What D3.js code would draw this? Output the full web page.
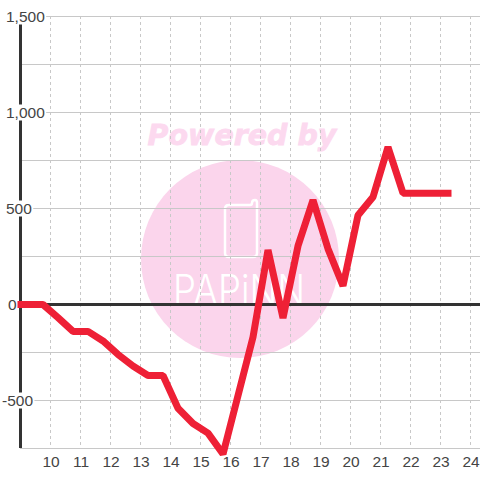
<!DOCTYPE html>
<html lang="en">
<head>
  <meta charset="UTF-8">
  <title>Chart</title>
  <script src="https://cdnjs.cloudflare.com/ajax/libs/d3/7.8.5/d3.min.js"></script>
  <style>
    html, body { margin: 0; padding: 0; background: #fff; }
    text { font-family: "Liberation Sans", Arial, sans-serif; }
  </style>
</head>
<body>
<svg id="canvas" width="480" height="480"></svg>
<script>
  const hours = [8.75, 9.25, 9.75, 10.25, 10.75, 11.25, 11.75, 12.25, 12.75, 13.25, 13.75, 14.25, 14.75, 15.25, 15.75, 16.25, 16.75, 17.25, 17.75, 18.25, 18.75, 19.25, 19.75, 20.25, 20.75, 21.25, 21.75, 22.25, 22.75, 23.25];
  const values = [0, 0, 0, -68, -140, -140, -190, -260, -320, -370, -370, -540, -620, -670, -779, -475, -170, 284, -70, 305, 544, 290, 97, 465, 560, 820, 580, 580, 580, 580];
  const xTicks = [10, 11, 12, 13, 14, 15, 16, 17, 18, 19, 20, 21, 22, 23, 24];
  const yGrid = [-750, -500, -250, 250, 500, 750, 1000, 1250, 1500];
  const yLabels = [1500, 1000, 500, 0, -500];

  const svg = d3.select("#canvas");
  const x = d3.scaleLinear().domain([9, 24]).range([20.5, 470.5]);
  const y = d3.scaleLinear().domain([1500, -750]).range([16.5, 448.5]);

  // watermark sits under the grid
  const mark = svg.append("g");
  mark.append("circle").attr("cx", 240).attr("cy", 259).attr("r", 99).attr("fill", "#fbd5ec");
  mark.append("text").attr("x", 242).attr("y", 145).attr("text-anchor", "middle")
    .style("font-family", "DejaVu Sans").style("font-weight", "bold").style("font-style", "italic")
    .style("font-size", "28.5px").attr("fill", "#fcd9ef")
    .attr("stroke", "#fcd9ef").attr("stroke-width", 0.8).text("Powered by");
  mark.append("path")
    .attr("d", "M229 205H250Q252 205 252 203Q252 200 255 200Q257 200 257 203V253Q257 257 253 257H229Q225 257 225 253V209Q225 205 229 205Z")
    .attr("fill", "none").attr("stroke", "#fff").attr("stroke-width", 2.5);
  mark.append("text").attr("x", 173).attr("y", 305)
    .attr("textLength", 132).attr("lengthAdjust", "spacingAndGlyphs")
    .style("font-family", "Inter").style("font-weight", "300").style("font-size", "42px")
    .attr("fill", "#fff").text("PAPiNN");

  svg.append("g").selectAll("line").data(xTicks).join("line")
    .attr("x1", d => x(d)).attr("x2", d => x(d)).attr("y1", 16).attr("y2", 448)
    .attr("stroke", "#c8c8c8").attr("stroke-dasharray", "3,3");

  svg.append("g").selectAll("line").data(yGrid).join("line")
    .attr("x1", 20).attr("x2", 480).attr("y1", d => y(d)).attr("y2", d => y(d))
    .attr("stroke", "#c8c8c8").attr("stroke-width", 1);

  // axes
  svg.append("line").attr("x1", 20.5).attr("x2", 20.5).attr("y1", 16).attr("y2", 448)
    .attr("stroke", "#333").attr("stroke-width", 3);
  svg.append("line").attr("x1", 20).attr("x2", 480).attr("y1", y(0)).attr("y2", y(0))
    .attr("stroke", "#333").attr("stroke-width", 3);

  // y labels have a white box that cuts the axis and grid
  const labelX = d => d < 0 ? 2 : d === 0 ? 8 : 6;
  const labels = svg.append("g").selectAll("g").data(yLabels).join("g");
  labels.append("text")
    .attr("x", labelX).attr("y", d => y(d)).attr("dy", "0.36em")
    .attr("font-size", 15.5).attr("fill", "#444")
    .text(d => d3.format(",")(d).replace("\u2212", "-"));
  labels.insert("rect", "text").each(function (d) {
    const b = d3.select(this.parentNode).select("text").node().getBBox();
    d3.select(this).attr("x", b.x - 1).attr("y", y(d) - 8).attr("width", b.width + 2).attr("height", 16).attr("fill", "#fff");
  });

  svg.append("g").selectAll("text").data(xTicks).join("text")
    .attr("x", d => x(d) + 0.5).attr("y", 467).attr("text-anchor", "middle")
    .attr("font-size", 15.5).attr("fill", "#444").text(d => d);

  svg.append("clipPath").attr("id", "plot").append("rect")
    .attr("x", 17.5).attr("y", 0).attr("width", 462.5).attr("height", 480);

  const line = d3.line().x((d, i) => x(hours[i])).y(d => y(d));
  svg.append("path").datum(values).attr("d", line)
    .attr("clip-path", "url(#plot)")
    .attr("fill", "none").attr("stroke", "#ee2036").attr("stroke-width", 7)
    .attr("stroke-linecap", "square").attr("stroke-linejoin", "bevel");
</script>
</body>
</html>
